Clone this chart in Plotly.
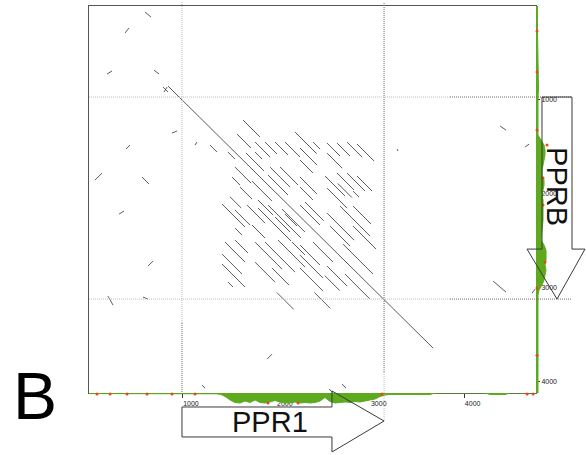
import plotly.graph_objects as go

# ---------------- data (bp) ----------------
# main diagonal match PPR1 region (x) vs PPRB region (y)
main_x = [841, 3664]
main_y = [852, 3642]

# repeat matches: start on x (bp), diagonal offset y-x (bp), length (bp)
rep_x0 = [1576, 1768, 1874, 1981, 2087, 1480, 1768, 1672, 1906, 1555, 1736, 1928, 2034, 1523, 1608, 1800, 1981, 2087,
          2194, 2386, 2535, 2641, 2748, 2854, 2247, 2247, 2535, 2513, 2641, 2748, 2854, 2247, 2247, 2535, 2812,
          1416, 1555, 1683, 1800, 1906, 2055, 1555, 1736, 1448, 1555, 1416, 1416, 1480, 1768, 1874, 2013, 2162, 1768, 1949,
          2247, 2247, 2247, 2247, 2386, 2535, 2673, 2812, 2812, 2567, 2705, 2535, 2726, 2510,
          1640, 2300, 2650, 1500, 2000, 2400]
rep_off = [-213, -320, -426, -533, -639, 75, -213, -107, -107, 160, 128, -213, -320, 298, 320, 266, 266, 128,
           -852, -937, -1076, -1182, -1299, -1385, -735, -607, -969, -703, -863, -969, -1044, -426, -320, -596, -841,
           692, 618, 437, 351, 213, 107, 809, 596, 1065, 937, 1225, 1331, 1459, 746, 639, 479, 351, 959, 841,
           -128, 298, 405, 543, 128, -330, -543, -682, -469, -224, -170, 234, 128, 360,
           -426, -213, -760, 530, 1050, 650]
rep_len = [149, 160, 128, 138, 160, 75, 75, 192, 213, 170, 213, 213, 192, 85, 128, 160, 160, 128,
           230, 75, 138, 138, 160, 181, 181, 138, 160, 213, 181, 192, 160, 181, 138, 213, 64,
           245, 160, 192, 351, 351, 245, 75, 138, 213, 138, 213, 245, 53, 288, 320, 288, 138, 213, 181,
           213, 213, 245, 245, 213, 288, 320, 192, 245, 213, 320, 213, 266, 160,
           180, 200, 150, 120, 180, 170]

# isolated short matches
scat_x0 = [596, 383, 192, 692, 788, 799, 884, 1129, 1289, 394, 64, 564, 320, 628, 202, 575, 1896, 1203, 2556, 2694,
           4377, 4643, 3280, 4303, 4718]
scat_y0 = [64, 288, 724, 682, 863, 916, 1353, 1480, 1480, 1523, 1853, 1821, 2215, 2769, 3089, 3099, 3759, 4036, 4079, 4026,
           1278, 1502, 1523, 2929, 3057]
scat_x1 = [660, 426, 245, 746, 841, 831, 937, 1150, 1363, 437, 138, 639, 373, 682, 256, 628, 1949, 1235, 2599, 2737,
           4441, 4686, 3291, 4441, 4750]
scat_y1 = [117, 234, 692, 724, 916, 863, 1331, 1448, 1555, 1480, 1779, 1896, 2183, 2716, 3184, 3120, 3706, 4068, 4115, 4068,
           1321, 1470, 1544, 3046, 3014]

# conservation profile along x (bottom) and along y (right)
bot_pos = [0, 650, 1353, 1406, 1459, 1502, 1555, 1608, 1661, 1715, 1768, 1821, 1874, 1928, 1981, 2034, 2087, 2141,
           2194, 2247, 2300, 2354, 2407, 2460, 2513, 2567, 2620, 2673, 2726, 2780, 2833, 2886, 2939, 2993, 3046,
           3099, 3152, 3206, 3632, 3685, 4217, 4271, 4430, 4484, 4760]
bot_val = [0.06, 0.06, 0.08, 0.15, 0.4, 0.7, 0.95, 1.0, 0.8, 0.95, 0.7, 0.95, 1.0, 0.9, 0.75, 0.9, 1.0, 1.0,
           0.9, 1.0, 0.95, 1.0, 0.95, 0.8, 0.45, 0.85, 1.0, 0.95, 0.9, 0.95, 0.85, 0.9, 0.8, 0.75, 0.6,
           0.35, 0.2, 0.15, 0.15, 0.0, 0.0, 0.15, 0.15, 0.0, 0.0]
right_pos = [0, 256, 895, 969, 1374, 1427, 1480, 1534, 1587, 1640, 1693, 1747, 1800, 1853, 1906, 1960, 2013, 2066,
             2173, 2279, 2386, 2492, 2545, 2599, 2652, 2705, 2758, 2812, 2865, 2918, 2971, 3025, 3078, 3131, 3557, 4120]
right_val = [0.15, 0.15, 0.25, 0.2, 0.2, 0.5, 0.8, 0.9, 0.9, 0.8, 0.7, 0.6, 0.6, 0.8, 0.8, 0.7, 0.6, 0.7,
             0.7, 0.7, 0.6, 0.5, 0.8, 1.0, 1.0, 1.0, 0.9, 1.0, 0.9, 0.8, 0.6, 0.3, 0.2, 0.2, 0.2, 0.2]
bot_red_x = [85, 224, 405, 618, 884, 1129, 1906, 2226, 3120, 4665, 4729]
bot_red_v = [0.1, 0.1, 0.1, 0.1, 0.1, 0.1, 1.0, 1.0, 0.1, 0.1, 0.1]
right_red_y = [266, 703, 1321, 1480, 1832, 2119, 2726, 3003, 3717]
right_red_v = [0.1, 0.1, 0.1, 1.1, 0.7, 0.7, 0.9, 0.1, 0.1]

gene_names = ["PPR1", "PPRB"]
gene_start = [990, 969]
gene_end = [3142, 3120]

x_ticks = [1000, 2000, 3000, 4000]
y_ticks = [1000, 2000, 3000, 4000]

# ---------------- figure ----------------
GREEN = "#5DAA1F"
RED = "#E8461E"
SEG = "#4a4a4a"

fig = go.Figure()

fig.add_trace(go.Scatter(x=bot_pos, y=bot_val, xaxis="x", yaxis="y2", mode="lines",
                         line=dict(color=GREEN, width=1), fill="tozeroy", fillcolor=GREEN,
                         hoverinfo="skip"))
fig.add_trace(go.Scatter(x=right_val, y=right_pos, xaxis="x2", yaxis="y", mode="lines",
                         line=dict(color=GREEN, width=1), fill="tozerox", fillcolor=GREEN,
                         hoverinfo="skip"))
fig.add_trace(go.Scatter(x=bot_red_x, y=bot_red_v, xaxis="x", yaxis="y2", mode="markers",
                         marker=dict(color=RED, size=3), cliponaxis=False, hoverinfo="skip"))
fig.add_trace(go.Scatter(x=right_red_v, y=right_red_y, xaxis="x2", yaxis="y", mode="markers",
                         marker=dict(color=RED, size=3), cliponaxis=False, hoverinfo="skip"))

sx, sy = [], []
for x0, d, L in zip(rep_x0, rep_off, rep_len):
    sx += [x0, x0 + L, None]
    sy += [x0 + d, x0 + d + L, None]
for a, b, c, e in zip(scat_x0, scat_y0, scat_x1, scat_y1):
    sx += [a, c, None]
    sy += [b, e, None]
sx += main_x + [None]
sy += main_y + [None]
fig.add_trace(go.Scatter(x=sx, y=sy, mode="lines", line=dict(color=SEG, width=0.9),
                         xaxis="x", yaxis="y", hoverinfo="skip"))

LIGHT = "#bdbdbd"
DARK = "#6a6a6a"
DASH = "1px,1px"
shapes = []
def vline(x, y0, y1, col):
    shapes.append(dict(type="line", xref="x", yref="paper", x0=x, x1=x, y0=y0, y1=y1,
                       line=dict(color=col, width=1, dash=DASH)))
def hline(y, x0, x1, col):
    shapes.append(dict(type="line", xref="paper", yref="y", x0=x0, x1=x1, y0=y, y1=y,
                       line=dict(color=col, width=1, dash=DASH)))

vline(gene_start[0], 0.9956, 0.2901, LIGHT)
vline(gene_start[0], 0.2901, 0.1363, DARK)
vline(gene_end[0], 0.9934, 0.1824, DARK)
vline(gene_end[0], 0.1824, 0.0747, LIGHT)
for g in (gene_start[1], gene_end[1]):
    hline(g, 0.1519, 0.7679, LIGHT)
    hline(g, 0.7679, 0.9761, DARK)

# PPR1 block arrow (horizontal)
s, e = gene_start[0], gene_end[0]
hs = e - 555
shapes.append(dict(type="path", xref="x", yref="paper",
                   path=f"M {s},0.1055 L {hs},0.1055 L {hs},0.1407 L {e},0.0747 L {hs},0.0066 "
                        f"L {hs},0.0396 L {s},0.0396 Z",
                   line=dict(color="#3a3a3a", width=1), fillcolor="rgba(0,0,0,0)"))
# PPRB block arrow (vertical)
s, e = gene_start[1], gene_end[1]
hs = e - 532
shapes.append(dict(type="path", xref="paper", yref="y",
                   path=f"M 0.9249,{s} L 0.9761,{s} L 0.9761,{hs} L 0.9983,{hs} L 0.9505,{e} "
                        f"L 0.8993,{hs} L 0.9249,{hs} Z",
                   line=dict(color="#3a3a3a", width=1), fillcolor="rgba(0,0,0,0)"))

FONT = "Liberation Sans, Arial, sans-serif"
annotations = [
    dict(text=gene_names[0], xref="x", yref="paper", x=1930, y=0.0725, showarrow=False,
         font=dict(family=FONT, size=29, color="#111"), xanchor="center", yanchor="middle"),
    dict(text=gene_names[1], xref="paper", yref="y", x=0.9505, y=1928, showarrow=False,
         textangle=90, font=dict(family=FONT, size=29, color="#111"), xanchor="center", yanchor="middle"),
    dict(text="B", xref="paper", yref="paper", x=0.0597, y=0.1297, showarrow=False,
         font=dict(family=FONT, size=66, color="#000"), xanchor="center", yanchor="middle"),
]

tickfont = dict(family=FONT, size=7, color="#222")
fig.update_layout(
    width=586, height=455, margin=dict(l=0, r=0, t=0, b=0),
    paper_bgcolor="white", plot_bgcolor="white", showlegend=False,
    xaxis=dict(domain=[0.1519, 0.9147], range=[0, 4760], anchor="y", tickvals=x_ticks,
               ticks="outside", ticklen=4, tickwidth=1, tickcolor="#333", tickfont=tickfont,
               showline=True, linecolor="#555", linewidth=1, mirror=True,
               showgrid=False, zeroline=False, ticklabelshift=8),
    yaxis=dict(domain=[0.1363, 0.9868], range=[4120, 0], anchor="x", side="right", tickvals=y_ticks,
               ticks="outside", ticklen=3, tickwidth=1, tickcolor="#333", tickfont=tickfont,
               showline=True, linecolor="#555", linewidth=1, mirror=True,
               showgrid=False, zeroline=False),
    xaxis2=dict(domain=[0.9147, 0.9352], range=[0, 1.2], anchor="y", visible=False),
    yaxis2=dict(domain=[0.1099, 0.1363], range=[1.2, 0], anchor="x", visible=False),
    shapes=shapes, annotations=annotations,
)

fig.write_html("out.html")
